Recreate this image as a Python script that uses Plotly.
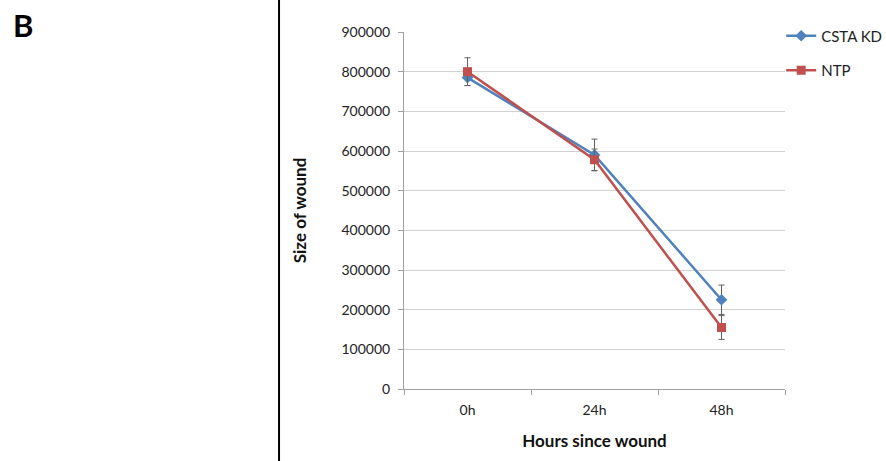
import plotly.graph_objects as go

categories = ["0h", "24h", "48h"]
csta_kd = [785000, 590000, 225000]
csta_kd_err = [20000, 40000, 37000]
ntp = [800000, 578000, 155000]
ntp_err = [35000, 27000, 30000]
y_ticks = list(range(0, 900001, 100000))

FONT = "Lato, 'Open Sans', sans-serif"

fig = go.Figure()
fig.add_trace(go.Scatter(
    x=categories, y=csta_kd, name="CSTA KD", mode="lines+markers",
    line=dict(color="#4f81bd", width=2.5),
    marker=dict(symbol="diamond", size=9, color="#4f81bd"),
    error_y=dict(type="data", array=csta_kd_err, color="#606060", thickness=1, width=3),
    legendgroup="a",
))
fig.add_trace(go.Scatter(
    x=categories, y=ntp, name="NTP", mode="lines+markers",
    line=dict(color="#c0504d", width=2.5),
    marker=dict(symbol="square", size=9, color="#c0504d"),
    error_y=dict(type="data", array=ntp_err, color="#606060", thickness=1, width=3),
    legendgroup="b",
))

fig.update_layout(
    width=886, height=461,
    margin=dict(l=404, r=101, t=32, b=72, autoexpand=False),
    paper_bgcolor="white", plot_bgcolor="white",
    font=dict(family=FONT, size=14, color="#222"),
    showlegend=True,
    legend=dict(x=0.99, y=1.035, xanchor="left", yanchor="top",
                font=dict(size=15, color="#222"), tracegroupgap=12, traceorder="grouped",
                bgcolor="rgba(0,0,0,0)", itemwidth=30),
    xaxis=dict(
        type="category", range=[-0.5, 2.5], tickson="boundaries",
        ticks="outside", ticklen=5, tickcolor="#a0a0a0",
        showline=True, linecolor="#a0a0a0", linewidth=1,
        showgrid=False, tickfont=dict(size=14), ticklabelstandoff=8,
        title=dict(text="<b>Hours since wound</b>", font=dict(size=17, color="#111"), standoff=18),
    ),
    yaxis=dict(
        range=[0, 900000], tickvals=y_ticks,
        ticktext=[str(v) for v in y_ticks],
        ticks="outside", ticklen=5, tickcolor="#a0a0a0",
        showline=True, linecolor="#a0a0a0", linewidth=1,
        showgrid=True, gridcolor="#d0d0d0", gridwidth=1,
        zeroline=False, tickfont=dict(size=14), ticklabelstandoff=5,
        title=dict(text="<b>Size of wound</b>", font=dict(size=17, color="#111"), standoff=30),
    ),
    shapes=[dict(type="line", xref="paper", yref="paper",
                 x0=-0.328, x1=-0.328, y0=-0.21, y1=1.1,
                 line=dict(color="black", width=2))],
    annotations=[dict(text="<b>B</b>", xref="paper", yref="paper",
                      x=-1.031, y=1.02, xanchor="left", yanchor="middle",
                      showarrow=False, font=dict(size=31, color="black"))],
)

fig.write_html("out.html")
